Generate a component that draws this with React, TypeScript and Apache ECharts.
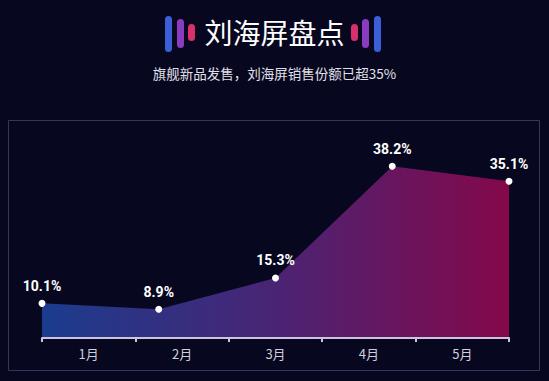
import React, { useEffect, useRef } from "react";
import * as echarts from "echarts";

const categories = ["1月", "2月", "3月", "4月", "5月"];
const shareValues = [10.1, 8.9, 15.3, 38.2, 35.1];
const titleText = "刘海屏盘点";
const subtitleText = "旗舰新品发售，刘海屏销售份额已超35%";

export default function App() {
  const ref = useRef<HTMLDivElement>(null);
  useEffect(() => {
    if (!ref.current) return;
    const chart = echarts.init(ref.current, undefined, { renderer: "svg" });
    const bar = (x: number, y: number, h: number, color: string) => ({
      type: "rect",
      shape: { x, y, width: 7, height: h, r: 3.5 },
      style: { fill: color },
      silent: true,
    });
    chart.setOption({
      animation: false,
      backgroundColor: "#07071f",
      title: [
        {
          text: titleText,
          left: "center",
          top: 13,
          textStyle: { color: "#ffffff", fontSize: 28, fontWeight: "normal", fontFamily: "Noto Sans CJK SC" },
        },
        {
          text: subtitleText,
          left: "center",
          top: 61,
          textStyle: { color: "#e0e0ea", fontSize: 13.5, fontWeight: "normal", fontFamily: "Noto Sans CJK SC" },
        },
      ],
      graphic: [
        bar(165, 16, 36, "#3a5fd8"),
        bar(177, 19, 29, "#8a3cc0"),
        bar(188, 24, 17, "#d8306a"),
        bar(351, 24, 17, "#d8306a"),
        bar(362, 19, 29, "#8a3cc0"),
        bar(374, 16, 36, "#3a5fd8"),
        {
          type: "rect",
          shape: { x: 8.5, y: 120.5, width: 531, height: 250 },
          style: { fill: "none", stroke: "#34365e", lineWidth: 1 },
          silent: true,
          z: -1,
        },
      ],
      grid: { left: 42, right: 40, top: 133, bottom: 43 },
      xAxis: [
        {
          type: "category",
          data: categories,
          boundaryGap: true,
          axisLine: { lineStyle: { color: "#cbc3e0", width: 2 } },
          axisTick: { show: true, length: 4, lineStyle: { color: "#cbc3e0", width: 2 } },
          axisLabel: { color: "#d0d0dc", fontSize: 13, margin: 9, fontFamily: "Noto Sans CJK SC" },
          z: 10,
        },
        {
          type: "category",
          data: categories,
          boundaryGap: false,
          show: false,
        },
      ],
      yAxis: {
        type: "value",
        min: 3,
        max: 45,
        show: false,
        splitLine: { show: false },
      },
      series: [
        {
          type: "line",
          xAxisIndex: 1,
          data: shareValues,
          symbol: "circle",
          symbolSize: 7,
          itemStyle: { color: "#ffffff" },
          lineStyle: { width: 0 },
          areaStyle: {
            opacity: 1,
            color: new echarts.graphic.LinearGradient(0, 0, 1, 0, [
              { offset: 0, color: "#1b3c8e" },
              { offset: 0.5, color: "#4a2474" },
              { offset: 1, color: "#84084a" },
            ]),
          },
          label: {
            show: true,
            position: "top",
            distance: 7,
            formatter: "{c}%",
            color: "#ffffff",
            fontSize: 14,
            fontWeight: "bold",
            fontFamily: "Roboto",
          },
        },
      ],
    });
    return () => chart.dispose();
  }, []);
  return <div ref={ref} style={{ width: 549, height: 381, position: "fixed", left: 0, top: 0 }} />;
}
